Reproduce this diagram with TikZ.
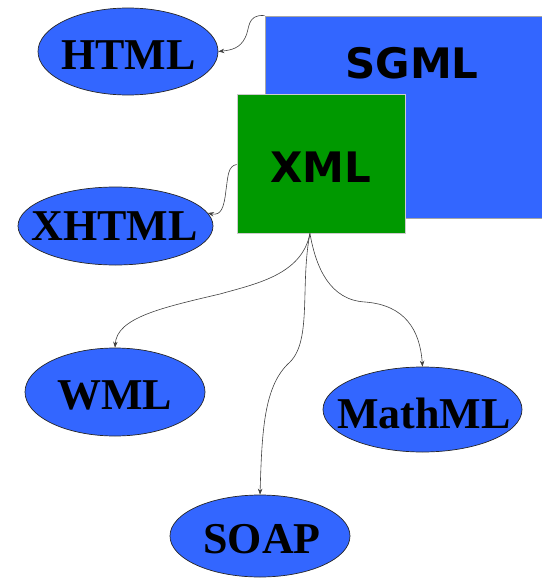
\documentclass[tikz,border=0pt]{standalone}
\usepackage{fontspec}
\setmainfont{Liberation Serif}
\newfontfamily\sansbold{DejaVu Sans}
\usetikzlibrary{arrows.meta,shapes.geometric}
\definecolor{lblue}{RGB}{51,102,255}
\definecolor{lgreen}{RGB}{0,153,0}
\tikzset{
  ell/.style={ellipse, draw=black!85, line width=0.7pt, fill=lblue, inner sep=0pt},
  elltext/.style={inner sep=0pt, font=\fontsize{44}{44}\selectfont\bfseries},
  conn/.style={draw=black!75, line width=0.6pt, -{Stealth[length=6pt,width=4.5pt]}},
  bigbox/.style={rectangle, inner sep=0pt},
  boxlabel/.style={font=\sansbold\bfseries\fontsize{42}{42}\selectfont, inner sep=0pt}
}
\begin{document}
\begin{tikzpicture}[x=1pt,y=-1pt]
\useasboundingbox (0,0) rectangle (541,578);
% SGML
\node[bigbox, fill=lblue, draw=black!35, line width=0.8pt, minimum width=277pt, minimum height=202pt] (sgml) at (403.5,117) {};
\node[boxlabel] (sgmltxt) at (412,63) {SGML};
% XML
\node[bigbox, fill=lgreen, draw=black!20, line width=0.8pt, minimum width=168pt, minimum height=139pt] (xml) at (321,163.5) {};
\node[boxlabel] (xmltxt) at (321,167) {XML};
% ellipses
\node[ell, minimum width=180pt, minimum height=87pt] (html) at (128,51.5) {};
\node[elltext] (htmltxt) at (128.5,55) {HTML};
\node[ell, minimum width=195pt, minimum height=78pt] (xhtml) at (115.5,226) {};
\node[elltext] (xhtmltxt) at (114.5,226.5) {XHTML};
\node[ell, minimum width=180pt, minimum height=88pt] (wml) at (115,392) {};
\node[elltext] (wmltxt) at (114.5,395) {WML};
\node[ell, minimum width=199pt, minimum height=85pt] (mathml) at (422.5,409.5) {};
\node[elltext] (mathmltxt) at (424,413) {MathML};
\node[ell, minimum width=180pt, minimum height=82pt] (soap) at (260,536) {};
\node[elltext] (soaptxt) at (262,539) {SOAP};
% connectors
\draw[conn] (sgml.north west) .. controls (246,14) and (250,30) .. (245,38) .. controls (240,48) and (232,50) .. (html.east);
\draw[conn] (xml.west) ++(0,1) .. controls (228,166) and (228,176) .. (226,190) .. controls (224,208) and (221,216) .. (xhtml.8);
\draw[conn] (xml.-99) .. controls (302,275) and (255,284) .. (220,294) .. controls (160,308) and (117,318) .. (wml.north);
\draw[conn] (xml.-99) .. controls (300,285) and (312,340) .. (290,362) .. controls (264,385) and (262,430) .. (soap.north);
\draw[conn] (xml.-99) .. controls (316,268) and (330,300) .. (365,302) .. controls (405,305) and (420,330) .. (mathml.north);
\end{tikzpicture}
\end{document}
